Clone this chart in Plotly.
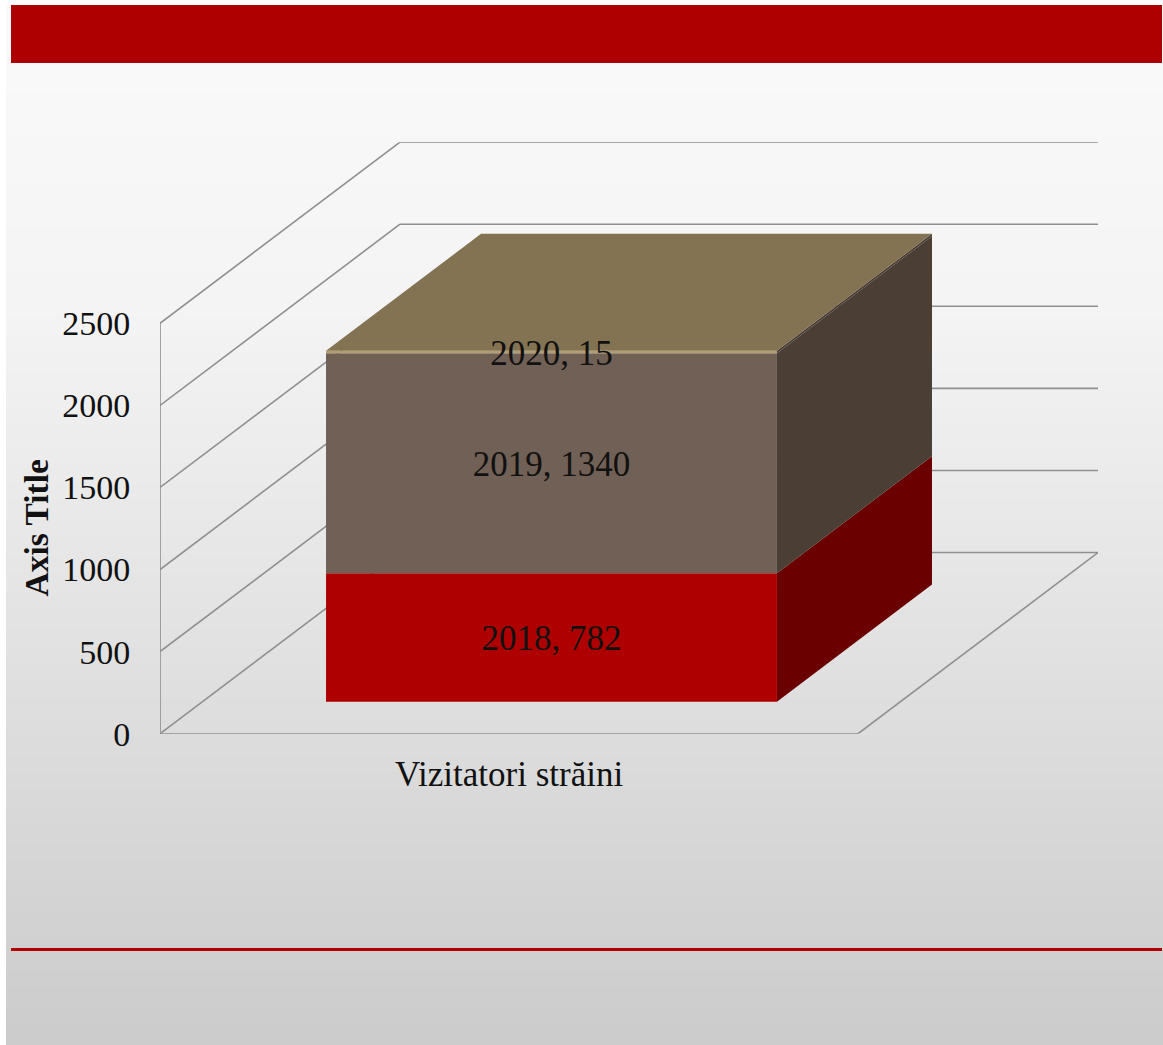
import base64, struct, zlib
import numpy as np
import plotly.graph_objects as go

# ---- data ----
category = "Vizitatori străini"
series_names = ["2018", "2019", "2020"]
series_values = [782, 1340, 15]
y_ticks = [0, 500, 1000, 1500, 2000, 2500]
axis_title = "Axis Title"

# ---- styles ----
front_colors = ["#AE0000", "#706055", "#B39E72"]
side_colors = ["#6B0000", "#4A3E35", "#4A3E35"]
top_color = "#847352"
grid_color = "#8F8F8F"
W, H = 1163, 1045
FONT = "Liberation Serif"

# oblique projection, expressed in axis units
PX_X, PX_Y = 698.0, 0.164          # pixels per x unit / per y value
DEPTH_X, DEPTH_Y = 240 / PX_X, 181 / PX_Y
GAP = 0.177
TOP_VALUE = max(y_ticks)

def proj(x, value, depth):
    return x + depth * DEPTH_X, value + depth * DEPTH_Y

x0, x1 = GAP, 1 - GAP
d0, d1 = GAP, 1 - GAP

# ---- background picture (vertical grey gradient) ----
def gradient_png(h=256):
    g = np.interp(np.linspace(0, 1, h), [0, 0.3, 0.6, 1], [251, 244, 227, 204]).astype(np.uint8)
    raw = b"".join(b"\x00" + bytes([v, v, v]) for v in g)
    def chunk(t, d):
        return struct.pack(">I", len(d)) + t + d + struct.pack(">I", zlib.crc32(t + d))
    png = b"\x89PNG\r\n\x1a\n" + chunk(b"IHDR", struct.pack(">IIBBBBB", 1, h, 8, 2, 0, 0, 0)) \
        + chunk(b"IDAT", zlib.compress(raw)) + chunk(b"IEND", b"")
    return "data:image/png;base64," + base64.b64encode(png).decode()

fig = go.Figure()

# gridlines, floor and wall as axis-referenced shapes below the bars
shapes = []
def seg(p, q, width=1.6):
    shapes.append(dict(type="line", xref="x", yref="y", layer="below",
                       x0=p[0], y0=p[1], x1=q[0], y1=q[1],
                       line=dict(color=grid_color, width=width)))

for t in y_ticks:
    seg(proj(0, t, 0), proj(0, t, 1))      # side wall
    seg(proj(0, t, 1), proj(1, t, 1))      # back wall
seg(proj(0, 0, 0), proj(0, TOP_VALUE, 0))  # front vertical edge
seg(proj(0, 0, 0), proj(1, 0, 0))          # floor front
seg(proj(1, 0, 0), proj(1, 0, 1))          # floor right

# decoration: header band and footer rule
shapes.append(dict(type="rect", xref="paper", yref="paper", layer="below",
                   x0=11 / W, x1=1162 / W, y0=1 - 63 / H, y1=1 - 5 / H,
                   fillcolor="#AE0000", line_width=0))
shapes.append(dict(type="rect", xref="paper", yref="paper", layer="below",
                   x0=11 / W, x1=1162 / W, y0=1 - 950 / H, y1=1 - 947 / H,
                   fillcolor="#B00000", line_width=0))

# bars
base_front = d0 * DEPTH_Y
cum = 0
for name, val, fc, sc in zip(series_names, series_values, front_colors, side_colors):
    fig.add_trace(go.Bar(x=[0.5 + d0 * DEPTH_X], y=[val], base=[base_front + cum],
                         width=[x1 - x0], name=name, showlegend=False,
                         marker=dict(color=fc, line_width=0)))
    pts = [proj(x1, cum, d0), proj(x1, cum, d1), proj(x1, cum + val, d1), proj(x1, cum + val, d0)]
    fig.add_trace(go.Scatter(x=[p[0] for p in pts], y=[p[1] for p in pts], mode="lines",
                             fill="toself", fillcolor=sc, line=dict(width=0),
                             showlegend=False, hoverinfo="skip"))
    cum += val

pts = [proj(x0, cum, d0), proj(x1, cum, d0), proj(x1, cum, d1), proj(x0, cum, d1)]
fig.add_trace(go.Scatter(x=[p[0] for p in pts], y=[p[1] for p in pts], mode="lines",
                         fill="toself", fillcolor=top_color, line=dict(width=0),
                         showlegend=False, hoverinfo="skip"))

# data labels
cum = 0
lx, ly, lt = [], [], []
for name, val in zip(series_names, series_values):
    p = proj(0.5, cum + val / 2, d0)
    lx.append(p[0]); ly.append(p[1] - 26); lt.append(f"{name}, {val}")
    cum += val
fig.add_trace(go.Scatter(x=lx, y=ly, text=lt, mode="text", textposition="middle center",
                         textfont=dict(family=FONT, size=35, color="#111111"),
                         showlegend=False, hoverinfo="skip"))

fig.update_layout(
    width=W, height=1065, autosize=False,
    margin=dict(l=0, r=0, t=0, b=0),
    paper_bgcolor="white", plot_bgcolor="rgba(0,0,0,0)",
    barmode="overlay", showlegend=False,
    shapes=shapes,
    images=[dict(source=gradient_png(), xref="paper", yref="paper",
                 x=6 / W, y=1 - 5 / H, sizex=1 - 6 / W, sizey=1 - 5 / H,
                 sizing="stretch", xanchor="left", yanchor="top", layer="below")],
    annotations=[dict(text=f"<b>{axis_title}</b>", xref="paper", yref="paper",
                      x=37 / W, y=1 - 528 / H, xanchor="center", yanchor="middle",
                      showarrow=False, textangle=-90,
                      font=dict(family=FONT, size=33.5, color="#111111"))],
    xaxis=dict(domain=[160 / W, 1098 / W], range=[0, 938 / PX_X],
               tickmode="array", tickvals=[0.5], ticktext=[category],
               ticks="outside", ticklen=9, tickcolor="rgba(0,0,0,0)",
               showgrid=False, zeroline=False, showline=False,
               tickfont=dict(family=FONT, size=35, color="#111111")),
    yaxis=dict(domain=[1 - 733 / H, 1 - 142 / H], range=[0, 591 / PX_Y],
               tickmode="array", tickvals=y_ticks, ticktext=[str(t) for t in y_ticks],
               ticks="outside", ticklen=22, tickcolor="rgba(0,0,0,0)",
               showgrid=False, zeroline=False, showline=False,
               tickfont=dict(family=FONT, size=34, color="#111111")),
)

fig.write_html("out.html", config={"displayModeBar": False},
               post_script="document.documentElement.style.margin='0';"
                           "document.body.style.margin='0';document.body.style.padding='0';"
                           "document.body.style.overflow='hidden';")
